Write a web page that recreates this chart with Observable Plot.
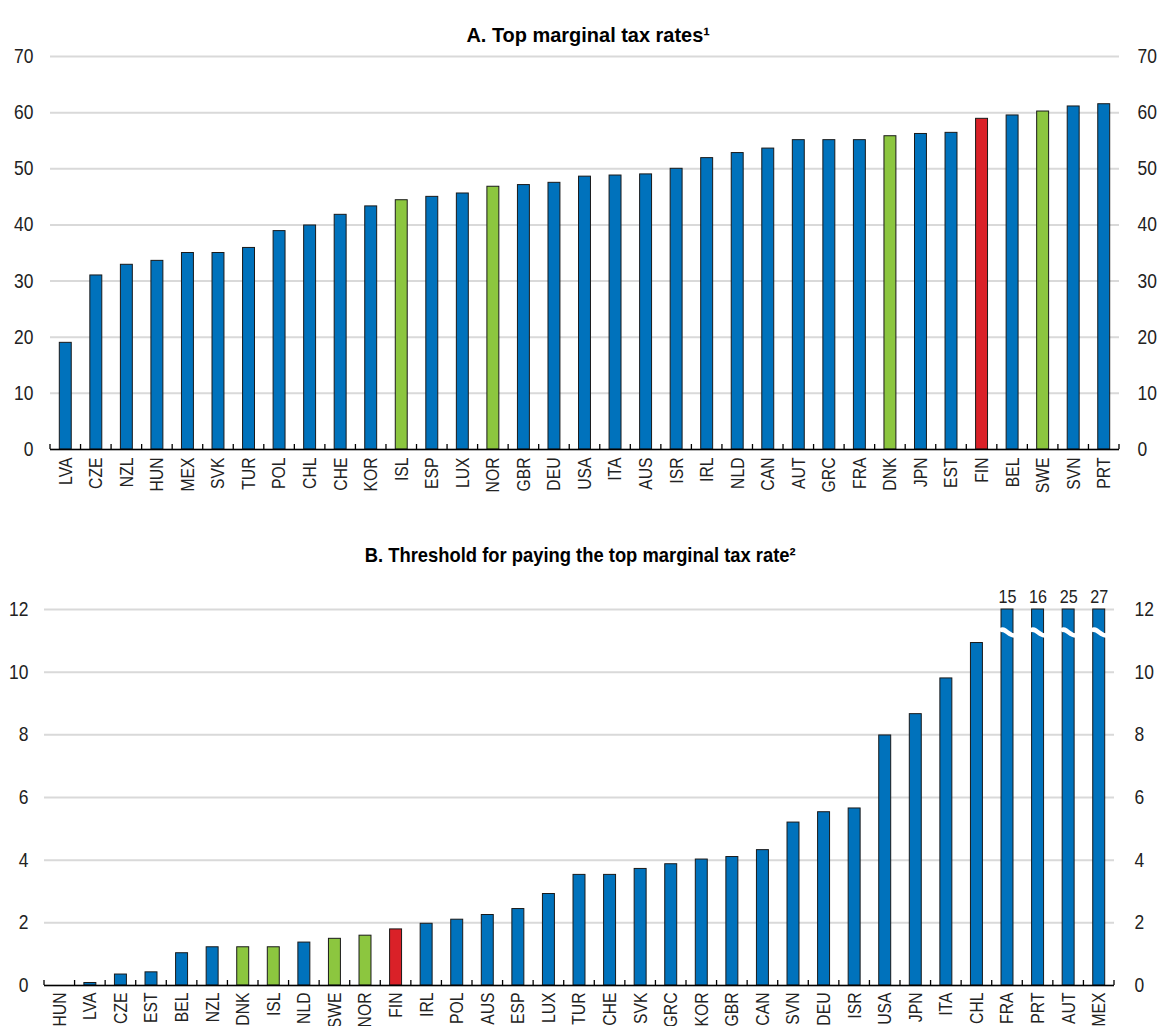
<!DOCTYPE html>
<html>
<head>
<meta charset="utf-8">
<script src="https://cdn.jsdelivr.net/npm/d3@7"></script>
<script src="https://cdn.jsdelivr.net/npm/@observablehq/plot@0.6"></script>
<style>
  html, body { margin: 0; padding: 0; background: #fff; overflow: hidden; }
  #wrap { position: relative; width: 1161px; height: 1026px; overflow: hidden; background: #fff; }
  .title { position: absolute; left: 0; width: 1161px; text-align: center; z-index: 2;
           font-family: 'Liberation Sans', Arial, sans-serif;
           font-weight: bold; font-size: 21px; line-height: 21px; color: #000; white-space: nowrap; }
  .title span { display: inline-block; transform-origin: 50% 50%; }
  .panel { position: absolute; left: 0; z-index: 1; }
</style>
</head>
<body>
<div id="wrap">
  <div class="title" id="titleA" style="top:24px; padding-left:8px;"><span style="transform:scaleX(0.95)">A. Top marginal tax rates¹</span></div>
  <div class="panel" id="panelA" style="top:40px;"></div>
  <div class="title" id="titleB" style="top:544px;"><span style="transform:scaleX(0.875)">B. Threshold for paying the top marginal tax rate²</span></div>
  <div class="panel" id="panelB" style="top:569px;"></div>
</div>
<script>
// ---------- data ----------
const countriesA = ["LVA","CZE","NZL","HUN","MEX","SVK","TUR","POL","CHL","CHE","KOR","ISL","ESP","LUX","NOR","GBR","DEU","USA","ITA","AUS","ISR","IRL","NLD","CAN","AUT","GRC","FRA","DNK","JPN","EST","FIN","BEL","SWE","SVN","PRT"];
const valuesA = [19.0,31.0,32.9,33.6,35.0,35.0,35.9,38.9,39.9,41.8,43.3,44.4,45.0,45.6,46.8,47.1,47.5,48.6,48.8,49.0,50.0,51.9,52.8,53.6,55.1,55.1,55.1,55.8,56.2,56.4,58.9,59.5,60.2,61.1,61.5];
const ticksA = [0,10,20,30,40,50,60,70];

const countriesB = ["HUN","LVA","CZE","EST","BEL","NZL","DNK","ISL","NLD","SWE","NOR","FIN","IRL","POL","AUS","ESP","LUX","TUR","CHE","SVK","GRC","KOR","GBR","CAN","SVN","DEU","ISR","USA","JPN","ITA","CHL","FRA","PRT","AUT","MEX"];
const valuesB = [0,0.08,0.35,0.42,1.03,1.22,1.22,1.22,1.37,1.49,1.59,1.79,1.97,2.10,2.25,2.44,2.92,3.53,3.53,3.72,3.87,4.02,4.10,4.32,5.20,5.53,5.65,7.98,8.66,9.80,10.93,15,16,25,27];
const ticksB = [0,2,4,6,8,10,12];

const nordic = ["ISL","NOR","DNK","SWE"];
const finland = ["FIN"];

// ---------- styles ----------
const BLUE = "#0072bc", GREEN = "#8cc63f", RED = "#da2128";
const FONT = "'Liberation Sans', Arial, sans-serif";
const NARROW = 0.85;
const colorOf = c => finland.includes(c) ? RED : nordic.includes(c) ? GREEN : BLUE;
const INSET = 9.3;

const dataA = countriesA.map((c, i) => ({country: c, value: valuesA[i]}));
const dataB = countriesB.map((c, i) => ({country: c, value: valuesB[i]}));

// small upward ticks at band boundaries on the baseline
function boundaryTicks(cats, len) {
  return (index, scales) => {
    const x = scales.x, y = scales.y;
    const step = x(cats[1]) - x(cats[0]);
    const y0 = y(0);
    const xs = cats.map(c => x(c)).concat([x(cats[cats.length - 1]) + step]);
    const g = d3.create("svg:g");
    g.selectAll("line").data(xs).join("line")
      .attr("x1", d => d).attr("x2", d => d)
      .attr("y1", y0).attr("y2", y0 - len)
      .attr("stroke", "#000").attr("stroke-width", 1.3);
    return g.node();
  };
}

// white wavy break marks across truncated bars
function breakMarks(data, cap, at) {
  return (index, scales) => {
    const x = scales.x, y = scales.y;
    const cats = data.map(d => d.country);
    const step = x(cats[1]) - x(cats[0]);
    const g = d3.create("svg:g");
    data.filter(d => d.value > cap).forEach(d => {
      const xl = x(d.country) + INSET, xr = x(d.country) + step - INSET;
      const w = xr - xl, yc = y(at);
      g.append("path")
        .attr("d", `M${xl - 1.5},${yc - 2} C${xl + w * 0.3},${yc - 6} ${xl + w * 0.6},${yc + 3} ${xr + 1.5},${yc + 3}`)
        .attr("fill", "none").attr("stroke", "#fff").attr("stroke-width", 4.5);
    });
    return g.node();
  };
}

function panel(data, cats, ticks, ymax, opts) {
  return Plot.plot({
    width: 1161,
    height: opts.height,
    marginLeft: opts.ml, marginRight: opts.mr, marginTop: opts.mt, marginBottom: opts.mb,
    style: {fontFamily: FONT, background: "transparent", color: "#222", overflow: "visible"},
    x: {type: "band", domain: cats, padding: 0, round: false, label: null},
    y: {domain: [0, ymax], label: null},
    marks: [
      Plot.gridY(ticks, {stroke: "#d9d9d9", strokeOpacity: 1, strokeWidth: 2}),
      Plot.barY(data, {
        x: "country", y: d => Math.min(d.value, ymax),
        fill: d => colorOf(d.country), stroke: "#1a1a1a", strokeWidth: 1,
        insetLeft: INSET, insetRight: INSET
      }),
      ...(opts.extra || []),
      Plot.ruleY([0], {stroke: "#000", strokeWidth: 1.5}),
      boundaryTicks(cats, 5),
      Plot.axisY(ticks, {anchor: "left", tickSize: 0, tickPadding: opts.padL, fontSize: 20.5, label: null}),
      Plot.axisY(ticks, {anchor: "right", tickSize: 0, tickPadding: opts.padR, fontSize: 20.5, label: null}),
      Plot.axisX({tickRotate: -90, tickSize: 0, tickPadding: opts.padX, fontSize: 18.5, label: null})
    ]
  });
}

// emulate a narrow typeface by compressing each text horizontally
function narrow(svg, k) {
  svg.querySelectorAll("text").forEach(t => {
    const L = t.getComputedTextLength();
    if (L > 0) {
      t.setAttribute("textLength", (L * k).toFixed(2));
      t.setAttribute("lengthAdjust", "spacingAndGlyphs");
    }
  });
}

const plotA = panel(dataA, countriesA, ticksA, 70, {
  height: 464, ml: 50, mr: 42, mt: 16, mb: 55, padL: 17, padR: 18, padX: 8
});
document.getElementById("panelA").appendChild(plotA);
narrow(plotA, NARROW);

const capB = 12;
const plotB = panel(dataB, countriesB, ticksB, capB, {
  height: 458, ml: 44, mr: 47, mt: 40, mb: 42, padL: 16, padR: 20, padX: 7,
  extra: [
    breakMarks(dataB, capB, 11.25),
    Plot.text(dataB.filter(d => d.value > capB), {
      x: "country", y: () => capB, text: d => String(d.value),
      dy: -13, fontSize: 19, fill: "#222"
    })
  ]
});
document.getElementById("panelB").appendChild(plotB);
narrow(plotB, NARROW);
</script>
</body>
</html>
